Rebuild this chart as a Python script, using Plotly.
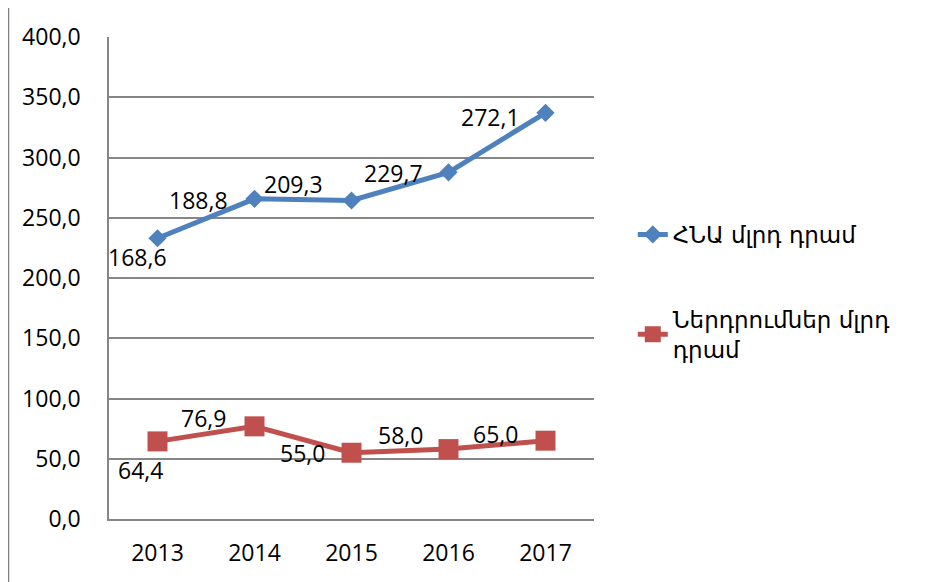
import plotly.graph_objects as go

years = ["2013", "2014", "2015", "2016", "2017"]
gdp = [168.6, 188.8, 209.3, 229.7, 272.1]       # ՀՆԱ մլրդ դրամ (stacked on top of investments)
invest = [64.4, 76.9, 55.0, 58.0, 65.0]          # Ներդրումներ մլրդ դրամ (base)
gdp_name = "ՀՆԱ մլրդ դրամ"
inv_name = "Ներդրումներ մլրդ<br>դրամ"

# label pixel offsets (styling only)
gdp_dx = [-20, -56, -58, -55, -55]
gdp_dy = [-19, -1, 17, -1, -4]
inv_dx = [-17, -51, -49, -48, -50]
inv_dy = [-29, 8, 0, 14, 7]

BLUE = "#4F81BD"
RED = "#C0504D"
FONT = "Open Sans, DejaVu Sans, sans-serif"
FS = 23

# stacked line chart: the GDP line sits on top of the investment line
gdp_stacked = [g + v for g, v in zip(gdp, invest)]

fig = go.Figure()
fig.add_trace(go.Scatter(
    x=years, y=gdp_stacked, name=gdp_name, text=gdp,
    mode="lines+markers", legendgroup="a",
    line=dict(color=BLUE, width=5),
    marker=dict(symbol="diamond", size=14, color=BLUE),
))
fig.add_trace(go.Scatter(
    x=years, y=invest, name=inv_name,
    mode="lines+markers", legendgroup="b",
    line=dict(color=RED, width=5),
    marker=dict(symbol="square", size=20, color=RED),
))

annots = []
for i, yr in enumerate(years):
    annots.append(dict(x=i, y=gdp_stacked[i], text=f"{gdp[i]:.1f}".replace(".", ","),
                       showarrow=False, xshift=gdp_dx[i], yshift=gdp_dy[i],
                       font=dict(size=FS, color="black", family=FONT)))
    annots.append(dict(x=i, y=invest[i], text=f"{invest[i]:.1f}".replace(".", ","),
                       showarrow=False, xshift=inv_dx[i], yshift=inv_dy[i],
                       font=dict(size=FS, color="black", family=FONT)))

fig.update_layout(
    width=928, height=574,
    margin=dict(l=101, r=342, t=21, b=63),
    paper_bgcolor="white", plot_bgcolor="white",
    separators=",.",
    font=dict(family=FONT, size=FS, color="black"),
    showlegend=True,
    legend=dict(x=1.0800, y=0.635, xanchor="left", yanchor="top",
                traceorder="grouped", tracegroupgap=52,
                font=dict(size=FS, family="DejaVu Sans, sans-serif", color="black"),
                bgcolor="rgba(0,0,0,0)"),
    annotations=annots,
    shapes=[dict(type="line", xref="paper", yref="paper",
                 x0=-0.2072, x1=-0.2072, y0=-0.14, y1=1.06,
                 line=dict(color="#808080", width=1.5))],
    hovermode=False,
)
fig.update_xaxes(type="category", showgrid=False, showline=True, linecolor="#868686",
                 linewidth=1.5, ticks="", ticklabelstandoff=13,
                 tickfont=dict(size=FS, family=FONT), range=[-0.5, 4.5])
fig.update_yaxes(range=[0, 400], dtick=50, tickformat=".1f", showgrid=True,
                 gridcolor="#868686", gridwidth=1.5, showline=True, linecolor="#868686",
                 linewidth=1.5, ticks="", ticklabelstandoff=22, zeroline=False,
                 tickfont=dict(size=FS, family=FONT))

fig.write_html("out.html")
